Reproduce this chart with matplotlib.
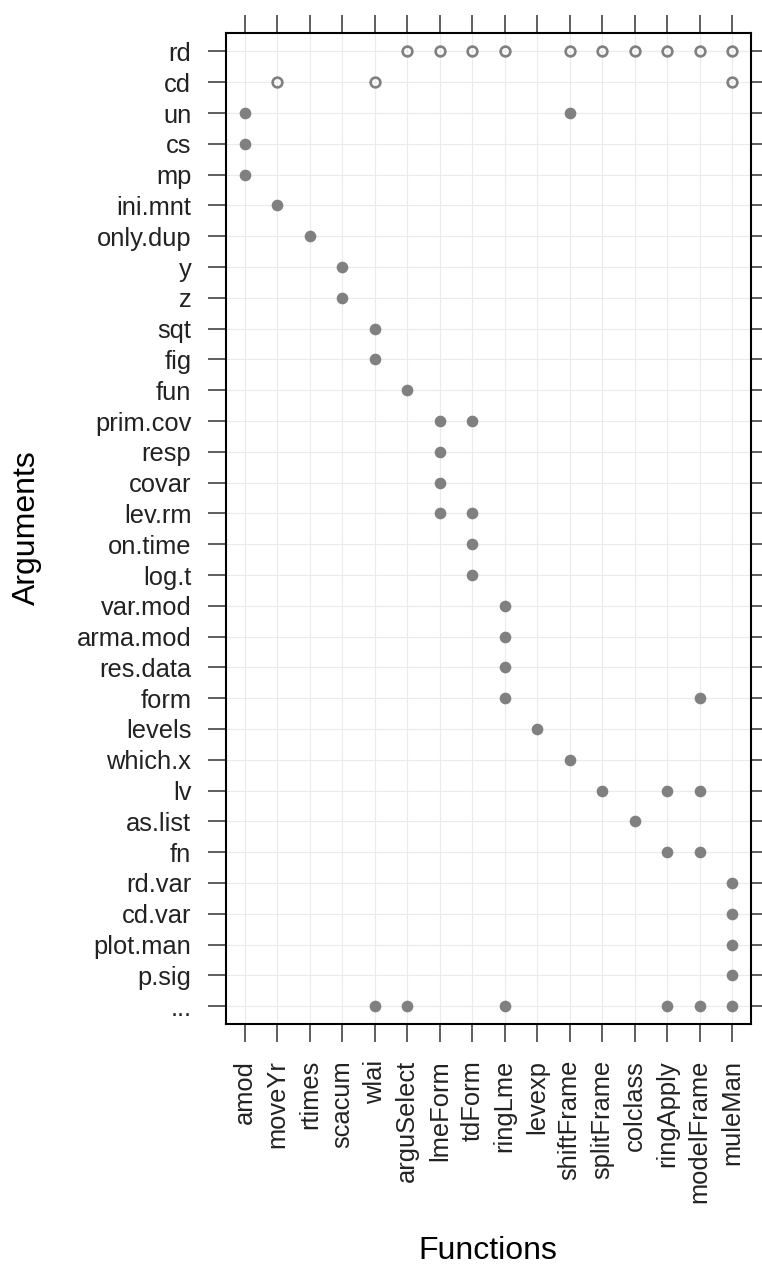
import matplotlib
matplotlib.use("Agg")
import matplotlib.pyplot as plt
import numpy as np

plt.rcParams['font.family'] = ['Liberation Sans', 'DejaVu Sans']

functions = ["amod", "moveYr", "rtimes", "scacum", "wlai", "arguSelect", "lmeForm",
             "tdForm", "ringLme", "levexp", "shiftFrame", "splitFrame", "colclass",
             "ringApply", "modelFrame", "muleMan"]

arguments = ["rd", "cd", "un", "cs", "mp", "ini.mnt", "only.dup", "y", "z", "sqt", "fig",
             "fun", "prim.cov", "resp", "covar", "lev.rm", "on.time", "log.t", "var.mod",
             "arma.mod", "res.data", "form", "levels", "which.x", "lv", "as.list", "fn",
             "rd.var", "cd.var", "plot.man", "p.sig", "..."]

# arguments drawn as open circles (shared arguments)
open_arg = ["rd"] * 10 + ["cd"] * 3
open_fun = ["arguSelect", "lmeForm", "tdForm", "ringLme", "shiftFrame", "splitFrame",
            "colclass", "ringApply", "modelFrame", "muleMan",
            "moveYr", "wlai", "muleMan"]

# arguments drawn as filled points
filled_arg = ["un", "un", "cs", "mp", "ini.mnt", "only.dup", "y", "z", "sqt", "fig", "fun",
              "prim.cov", "prim.cov", "resp", "covar", "lev.rm", "lev.rm", "on.time", "log.t",
              "var.mod", "arma.mod", "res.data", "form", "form", "levels", "which.x",
              "lv", "lv", "lv", "as.list", "fn", "fn",
              "rd.var", "cd.var", "plot.man", "p.sig",
              "...", "...", "...", "...", "...", "..."]
filled_fun = ["amod", "shiftFrame", "amod", "amod", "moveYr", "rtimes", "scacum", "scacum",
              "wlai", "wlai", "arguSelect",
              "lmeForm", "tdForm", "lmeForm", "lmeForm", "lmeForm", "tdForm", "tdForm", "tdForm",
              "ringLme", "ringLme", "ringLme", "ringLme", "modelFrame", "levexp", "shiftFrame",
              "splitFrame", "ringApply", "modelFrame", "colclass", "ringApply", "modelFrame",
              "muleMan", "muleMan", "muleMan", "muleMan",
              "wlai", "arguSelect", "ringLme", "ringApply", "modelFrame", "muleMan"]

fx = {f: i for i, f in enumerate(functions)}
ay = {a: i for i, a in enumerate(arguments)}

W, H = 762, 1267
fig = plt.figure(figsize=(W / 100, H / 100), dpi=100)
ax = fig.add_axes([226 / W, 1 - 1024 / H, (751 - 226) / W, (1024 - 33) / H])

xs = np.arange(len(functions))
ys = np.arange(len(arguments))
for x in xs:
    ax.axvline(x, color='#ebebeb', lw=0.8, zorder=0)
for y in ys:
    ax.axhline(y, color='#ebebeb', lw=0.8, zorder=0)

ax.plot([fx[f] for f in filled_fun], [ay[a] for a in filled_arg], 'o', ls='none',
        color='#808080', ms=8.4, mew=0, zorder=3)
ax.plot([fx[f] for f in open_fun], [ay[a] for a in open_arg], 'o', ls='none',
        mfc='none', mec='#808080', ms=7.0, mew=1.9, zorder=3)

ax.set_xlim(-0.585, len(functions) - 1 + 0.585)
ax.set_ylim(len(arguments) - 1 + 0.58, -0.6)

ax.set_xticks(xs)
ax.set_xticklabels(functions, rotation=90, fontsize=18.4, color='#222222')
ax.set_yticks(ys)
ax.set_yticklabels(arguments, fontsize=18.4, color='#222222')
ax.tick_params(axis='both', which='both', direction='out', length=13, width=1.1,
               color='#333333', top=True, right=True)
ax.tick_params(axis='x', pad=13)
ax.tick_params(axis='y', pad=12)
for s in ax.spines.values():
    s.set_linewidth(1.5)
    s.set_color('black')

fig.text(488 / W, 1 - 1259 / H, "Functions", ha='center', va='baseline', fontsize=23)
fig.text(27 / W, 1 - 528 / H, "Arguments", ha='center', va='center', rotation=90, fontsize=23)

fig.savefig("out.png", dpi=100, facecolor='white')
